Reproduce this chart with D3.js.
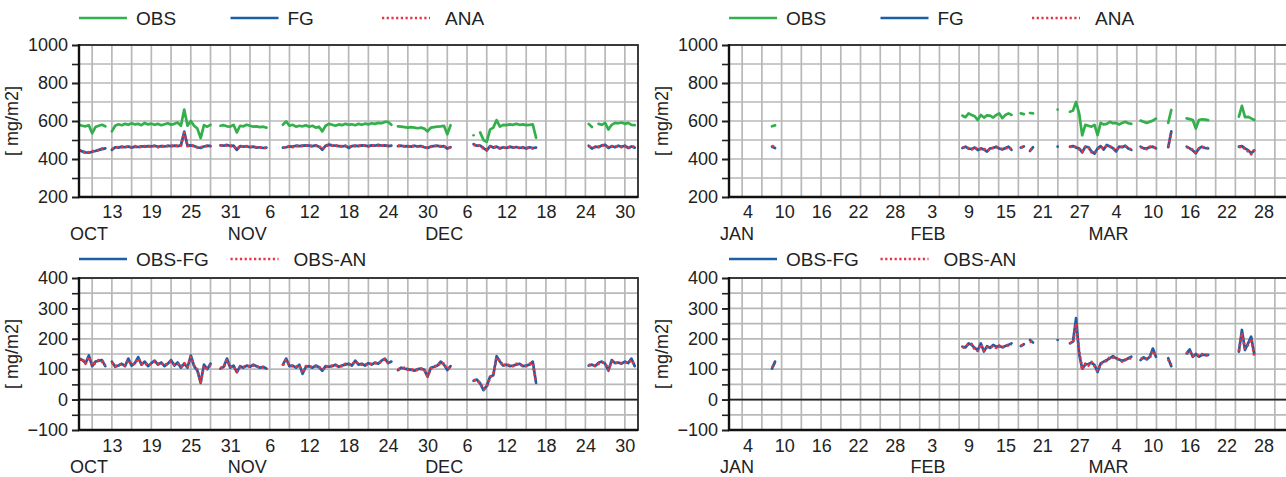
<!DOCTYPE html>
<html>
<head>
<meta charset="utf-8">
<script src="https://cdnjs.cloudflare.com/ajax/libs/d3/7.8.5/d3.min.js"></script>
<style>
body { margin: 0; background: #fff; }
svg text { font-family: "Liberation Sans", Arial, Helvetica, sans-serif; fill: #222; }
</style>
</head>
<body>
<script>
// every series is a list of runs: [start time, values every 12 h]; gaps are simply missing runs

// ---- Oct - Dec 2011 ----
var obsQ4 = [
  ["2011-10-08T00", [580,575,572,578,535,568,575,580,572]],
  ["2011-10-13T00", [545,575,583,578,585,580,588,582,585,578,590,582,586,580,585,578,583,588,580,585,592,575,660,575,600,575,560,510,578,570,580]],
  ["2011-10-29T12", [575,578,572,570,580,540,575,572,580,575,570,572,568,570,565]],
  ["2011-11-08T00", [580,598,575,580,570,575,572,578,570,575,565,570,545,575,585,580,575,582,578,585,580,583,578,585,580,586,582,588,585,590,588,595,595,580]],
  ["2011-11-25T12", [572,570,568,565,568,565,562,565,560,545,565,568,570,572,575,530,578]],
  ["2011-12-07T00", [525]],
  ["2011-12-08T00", [540,500,490,555,565,605,570,580,578,582,580,585,580,582,578,580,582,512]],
  ["2011-12-24T12", [585,568]],
  ["2011-12-26T00", [585,580,590,555,580,590,588,592,585,590,580,578]]
];
var fgQ4 = [
  ["2011-10-08T00", [447,440,435,433,438,442,448,452,456]],
  ["2011-10-13T00", [448,462,460,465,462,466,460,465,463,467,465,468,466,470,464,468,466,470,467,470,468,472,544,470,472,468,462,458,466,470,468]],
  ["2011-10-29T12", [472,470,474,468,470,448,468,465,467,462,465,460,462,458,460]],
  ["2011-11-08T00", [460,462,466,465,470,468,470,472,470,468,472,465,448,470,476,472,470,468,466,470,458,468,470,468,472,470,468,472,470,474,470,472,468,470]],
  ["2011-11-25T12", [468,470,466,468,465,470,466,468,462,458,466,468,470,465,468,455,462]],
  ["2011-12-07T00", [478,470,470,458,445,468,460,465,455,462,458,465,460,463,458,462,455,462,458,460]],
  ["2011-12-24T12", [470,455,465,462,472,475,458,468,462,470,464,470,458,466,460]]
];
var anaQ4 = [
  ["2011-10-08T00", [450,438,432,436,440,445,446,455,458]],
  ["2011-10-13T00", [452,460,463,462,465,463,462,468,460,465,468,465,470,468,462,470,464,468,470,468,472,470,540,468,470,470,460,462,468,468,470]],
  ["2011-10-29T12", [470,472,470,470,468,452,470,462,468,465,462,462,460,460,456]],
  ["2011-11-08T00", [462,460,468,462,468,470,468,470,472,466,470,468,452,468,472,470,472,466,468,468,462,470,468,470,470,472,466,470,472,470,472,470,470,468]],
  ["2011-11-25T12", [470,468,468,466,468,468,465,470,460,460,464,470,468,468,466,458,460]],
  ["2011-12-07T00", [475,468,472,455,448,465,462,462,458,460,460,462,462,460,460,458,458,460,455,462]],
  ["2011-12-24T12", [468,458,462,465,470,472,462,465,465,468,462,468,455,468,462]]
];
var obsFgQ4 = [
  ["2011-10-08T00", [135,130,120,145,110,125,128,130,110]],
  ["2011-10-13T00", [125,108,112,118,110,135,112,120,140,115,125,110,120,128,115,122,110,118,130,112,122,105,118,105,145,110,95,55,115,100,118]],
  ["2011-10-29T12", [102,108,135,105,112,90,110,105,112,108,115,110,105,108,102]],
  ["2011-11-08T00", [115,135,110,112,105,115,85,108,110,105,112,106,95,110,108,110,115,108,112,115,118,112,128,115,118,112,120,115,122,118,128,135,120,125]],
  ["2011-11-25T12", [97,105,102,100,98,95,100,102,98,75,105,108,112,125,115,97,110]],
  ["2011-12-07T00", [62,66,53,31,45,75,80,143,125,112,115,110,112,115,118,110,112,115,125,55]],
  ["2011-12-24T12", [112,115,110,121,125,118,95,130,120,122,118,125,120,135,110]]
];
var obsAnQ4 = [
  ["2011-10-08T00", [130,135,118,140,112,120,130,125,112]],
  ["2011-10-13T00", [122,110,115,115,112,130,115,118,135,118,120,112,118,125,118,120,112,120,125,115,118,108,120,108,140,112,98,58,110,102,115]],
  ["2011-10-29T12", [105,105,130,108,110,92,108,108,110,110,112,108,108,105,104]],
  ["2011-11-08T00", [112,130,112,110,108,112,88,110,108,108,110,108,98,108,110,112,112,110,110,118,115,115,125,118,115,115,118,118,120,120,125,132,122,122]],
  ["2011-11-25T12", [100,102,105,98,100,98,98,100,100,78,102,110,110,122,118,100,108]],
  ["2011-12-07T00", [65,62,55,35,42,72,85,138,128,110,118,112,110,118,115,112,110,118,120,58]],
  ["2011-12-24T12", [115,112,112,118,122,120,98,125,122,120,120,122,122,130,112]]
];

// ---- Jan - Mar 2012 ----
var obsQ1 = [
  ["2012-01-08T00", [572,577]],
  ["2012-02-08T00", [628,620,640,632,625,605,632,618,630,628,618,632,640,615,632,640,632]],
  ["2012-02-17T12", [640,636]],
  ["2012-02-19T00", [642,640]],
  ["2012-02-23T12", [660]],
  ["2012-02-25T12", [649,655,700,640,525,580,575,570,580,526,590,582,585,596,588,590,582,590,596,588,585]],
  ["2012-03-08T00", [602,596,590,596,602,612]],
  ["2012-03-12T12", [590,658]],
  ["2012-03-15T12", [614,610,605,560,605,609,607,605]],
  ["2012-03-24T00", [623,680,620,622,614,605]]
];
var fgQ1 = [
  ["2012-01-08T00", [465,458]],
  ["2012-02-08T00", [458,465,455,453,460,447,456,450,439,456,458,465,455,450,458,465,448]],
  ["2012-02-17T12", [460,466]],
  ["2012-02-19T00", [442,462]],
  ["2012-02-23T12", [465]],
  ["2012-02-25T12", [465,468,460,456,435,465,462,440,428,456,468,450,474,465,458,440,465,462,470,455,448]],
  ["2012-03-08T00", [465,456,456,462,465,456]],
  ["2012-03-12T12", [462,545]],
  ["2012-03-15T12", [465,456,445,430,456,465,458,456]],
  ["2012-03-24T00", [465,468,456,447,430,445]]
];
var anaQ1 = [
  ["2012-01-08T00", [470,460]],
  ["2012-02-08T00", [462,460,458,450,462,450,452,455,442,452,460,462,458,452,455,462,452]],
  ["2012-02-17T12", [462,462]],
  ["2012-02-19T00", [446,458]],
  ["2012-02-23T12", [468]],
  ["2012-02-25T12", [462,470,462,452,438,462,465,436,432,452,465,455,470,468,455,445,462,465,468,458,450]],
  ["2012-03-08T00", [462,458,452,465,462,458]],
  ["2012-03-12T12", [465,540]],
  ["2012-03-15T12", [462,458,448,435,452,462,460,458]],
  ["2012-03-24T00", [462,465,452,440,425,448]]
];
var obsFgQ1 = [
  ["2012-01-08T00", [102,125]],
  ["2012-02-08T00", [174,172,185,180,170,163,185,158,176,170,180,174,176,172,176,180,185]],
  ["2012-02-17T12", [176,182]],
  ["2012-02-19T00", [196,188]],
  ["2012-02-23T12", [196]],
  ["2012-02-25T12", [185,191,268,150,102,115,117,121,114,91,119,125,130,136,143,136,132,128,130,136,141]],
  ["2012-03-08T00", [130,139,132,141,168,141]],
  ["2012-03-12T12", [136,110]],
  ["2012-03-15T12", [152,165,141,150,141,147,147,147]],
  ["2012-03-24T00", [158,229,163,185,207,150]]
];
var obsAnQ1 = [
  ["2012-01-08T00", [105,120]],
  ["2012-02-08T00", [170,175,182,183,165,160,182,162,172,172,176,170,178,170,178,178,182]],
  ["2012-02-17T12", [178,180]],
  ["2012-02-19T00", [192,185]],
  ["2012-02-23T12", [194]],
  ["2012-02-25T12", [188,185,250,160,98,118,112,124,110,95,118,122,128,140,138,138,130,125,132,132,138]],
  ["2012-03-08T00", [135,136,135,138,160,145]],
  ["2012-03-12T12", [132,115]],
  ["2012-03-15T12", [150,160,145,148,145,150,145,145]],
  ["2012-03-24T00", [160,220,168,180,200,145]]
];

var topTicks = [200, 400, 600, 800, 1000];
var topMinor = [200, 300, 400, 500, 600, 700, 800, 900, 1000];
var botTicks = [-100, 0, 100, 200, 300, 400];
var botMinor = [-100, -50, 0, 50, 100, 150, 200, 250, 300, 350, 400];

var columns = [
  { x0: 79,  from: "2011-10-08", to: "2012-01-01", tick0: "2011-10-13",
    top: [obsQ4, fgQ4, anaQ4], bot: [obsFgQ4, obsAnQ4] },
  { x0: 729, from: "2012-01-01", to: "2012-04-01", tick0: "2012-01-04",
    top: [obsQ1, fgQ1, anaQ1], bot: [obsFgQ1, obsAnQ1] }
];

var green = "#33b04b", blue = "#1b5fa7", red = "#ea3340";
var pw = 559;
var fs = 18;
var font = "'Liberation Sans', Arial, Helvetica, sans-serif";

var svg = d3.select("body").append("svg")
    .attr("width", 1286)
    .attr("height", 477);

var parse = d3.utcParse("%Y-%m-%dT%H");
var parseDay = d3.utcParse("%Y-%m-%d");

function points(seg) {
  var t0 = parse(seg[0]);
  return seg[1].map(function(v, i) {
    return { t: d3.utcHour.offset(t0, 12 * i), v: v };
  });
}

function drawPanel(col, idx, opt) {
  var x = d3.scaleUtc()
      .domain([parseDay(col.from), parseDay(col.to)])
      .range([col.x0, col.x0 + pw]);
  var y = d3.scaleLinear().domain(opt.domain).range([opt.y1, opt.y0]);

  var g = svg.append("g");
  var clipId = "clip" + idx + opt.name;
  svg.append("clipPath").attr("id", clipId).append("rect")
      .attr("x", col.x0).attr("y", opt.y0).attr("width", pw).attr("height", opt.y1 - opt.y0);

  // grid: same pixel pattern in both columns (every 3 days in the autumn one)
  var gx = d3.scaleLinear().domain([0, 85]).range([col.x0, col.x0 + pw]);
  g.selectAll(".vg").data(d3.range(2, 85, 3)).enter().append("line")
      .attr("x1", function(d) { return gx(d); })
      .attr("x2", function(d) { return gx(d); })
      .attr("y1", opt.y0).attr("y2", opt.y1)
      .attr("stroke", "#b8b8b8").attr("stroke-width", 1.7);
  g.selectAll(".hg").data(opt.minor).enter().append("line")
      .attr("x1", col.x0).attr("x2", col.x0 + pw)
      .attr("y1", function(d) { return y(d); })
      .attr("y2", function(d) { return y(d); })
      .attr("stroke", "#b8b8b8").attr("stroke-width", 1.7);

  if (opt.zero) {
    g.append("line").attr("x1", col.x0).attr("x2", col.x0 + pw)
        .attr("y1", y(0)).attr("y2", y(0))
        .attr("stroke", "#222").attr("stroke-width", 1.8);
  }

  // data
  var line = d3.line()
      .x(function(d) { return x(d.t); })
      .y(function(d) { return y(d.v); });
  var lines = g.append("g").attr("clip-path", "url(#" + clipId + ")");
  opt.series.forEach(function(s) {
    lines.selectAll(null).data(s.segs).enter().append("path")
        .attr("d", function(seg) { return line(points(seg)); })
        .attr("fill", "none")
        .attr("stroke", s.color)
        .attr("stroke-width", 2.7)
        .attr("stroke-linecap", s.dash ? "butt" : "round")
        .attr("stroke-linejoin", "round")
        .attr("stroke-dasharray", s.dash || null);
  });

  // frame
  g.append("rect").attr("x", col.x0).attr("y", opt.y0)
      .attr("width", pw).attr("height", opt.y1 - opt.y0)
      .attr("fill", "none").attr("stroke", "#2a2a2a").attr("stroke-width", 1.8);

  // y axis
  var ya = g.append("g").attr("transform", "translate(" + col.x0 + ",0)")
      .call(d3.axisLeft(y).tickValues(opt.minor).tickSize(7).tickFormat(""));
  ya.selectAll("line").attr("stroke", "#222").attr("stroke-width", 1.6);
  ya.select(".domain").remove();
  var yl = g.append("g").attr("transform", "translate(" + col.x0 + ",0)")
      .call(d3.axisLeft(y).tickValues(opt.ticks).tickSize(7).tickPadding(4).tickFormat(d3.format("d")));
  yl.attr("font-size", fs).attr("font-family", font);
  yl.selectAll("line").attr("stroke", "#222").attr("stroke-width", 1.6);
  yl.select(".domain").remove();
  g.append("line").attr("x1", col.x0).attr("x2", col.x0)
      .attr("y1", opt.y0 - 1).attr("y2", opt.y1 + 1)
      .attr("stroke", "#111").attr("stroke-width", 2.4);
  g.append("line").attr("x1", col.x0 - 1).attr("x2", col.x0 + pw)
      .attr("y1", opt.y1).attr("y2", opt.y1)
      .attr("stroke", "#111").attr("stroke-width", 2.4);

  // x axis: day numbers every 6 days, month names below
  var days = d3.utcDay.range(parseDay(col.tick0), parseDay(col.to), 6);
  var xa = g.append("g").attr("transform", "translate(0," + opt.y1 + ")")
      .call(d3.axisBottom(x).tickValues(days).tickSize(0).tickPadding(opt.xpad).tickFormat(d3.utcFormat("%-d")));
  xa.attr("font-size", fs).attr("font-family", font);
  xa.select(".domain").remove();

  var months = d3.utcMonth.range(d3.utcMonth.floor(parseDay(col.from)), parseDay(col.to));
  g.selectAll(".mon").data(months).enter().append("text")
      .attr("x", function(d) { return Math.max(x(d), col.x0) - 9; })
      .attr("y", opt.y1 + 43)
      .attr("font-size", fs)
      .text(function(d) { return d3.utcFormat("%b")(d).toUpperCase(); });

  g.append("text")
      .attr("transform", "translate(" + (col.x0 - 61) + "," + ((opt.y0 + opt.y1) / 2) + ") rotate(-90)")
      .attr("text-anchor", "middle")
      .attr("font-size", fs)
      .text("[ mg/m2]");

  // legend
  opt.series.forEach(function(s, i) {
    var lx = col.x0 + i * 151.5;
    g.append("line").attr("x1", lx).attr("x2", lx + 48)
        .attr("y1", opt.ly).attr("y2", opt.ly)
        .attr("stroke", s.color).attr("stroke-width", 2.7)
        .attr("stroke-dasharray", s.dash || null);
    g.append("text").attr("x", lx + (s.dash ? 63 : 57)).attr("y", opt.ly + 7)
        .attr("font-size", 19).text(s.name);
  });
}

columns.forEach(function(col, i) {
  drawPanel(col, i, {
    name: "t", y0: 45, y1: 197, domain: [200, 1000], ticks: topTicks, minor: topMinor,
    xpad: 8, ly: 18,
    series: [
      { name: "OBS", segs: col.top[0], color: green },
      { name: "FG", segs: col.top[1], color: blue },
      { name: "ANA", segs: col.top[2], color: red, dash: "2.2,2.5" }
    ]
  });
  drawPanel(col, i, {
    name: "b", y0: 278, y1: 430, domain: [-100, 400], ticks: botTicks, minor: botMinor,
    xpad: 9, ly: 259, zero: true,
    series: [
      { name: "OBS-FG", segs: col.bot[0], color: blue },
      { name: "OBS-AN", segs: col.bot[1], color: red, dash: "2.2,2.5" }
    ]
  });
});
</script>
</body>
</html>
